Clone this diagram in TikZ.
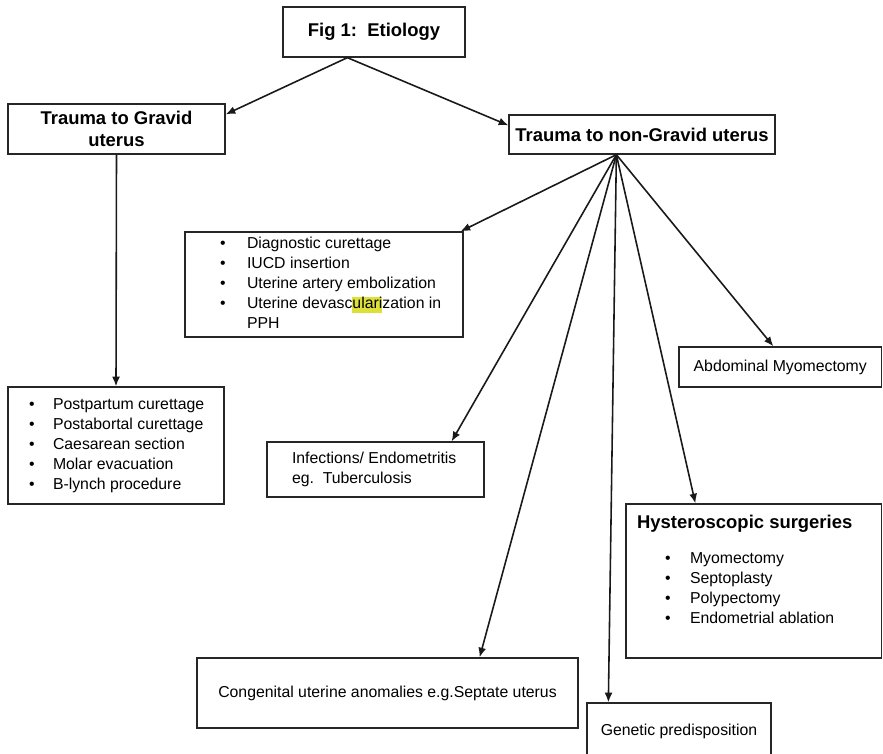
\documentclass[tikz,border=0pt]{standalone}
\usepackage{fontspec}
\setmainfont{Liberation Sans}
\usetikzlibrary{arrows.meta,calc}
\definecolor{hilite}{RGB}{222,224,58}
\setlength{\fboxsep}{0pt}
\newcommand{\headfont}{\fontsize{10.5}{12.5}\selectfont\bfseries}
\newcommand{\itm}[1][0.5cm]{\makebox[#1][l]{\textbullet}}
\newcommand{\boxlist}[3]{\makebox[#1][l]{\begin{tabular}{@{\hspace{#2}}l@{}}#3\end{tabular}}}
\begin{document}
\begin{tikzpicture}[x=0.02cm,y=-0.02cm,
	>={Latex[length=5.5pt,width=4.5pt]},
	box/.style={draw=black!85,line width=0.75pt,inner sep=0pt,font=\fontsize{9}{11.4}\selectfont},
	head/.style={box,font=\headfont,align=center},
	link/.style={->,line width=0.9pt,black!90}]
	\useasboundingbox (0,0) rectangle (883,754);
	\clip (0,0) rectangle (883,754);
	\node[head,minimum width=3.64cm,minimum height=1cm] (fig) at (374,32) {Fig 1:\ \ Etiology};
	\node[head,minimum width=4.34cm,minimum height=1cm] (gravid) at (116.5,129) {Trauma to Gravid\\uterus};
	\node[head,minimum width=5.32cm,minimum height=0.78cm] (nongravid) at (642,134.5) {Trauma to non-Gravid uterus};
	\node[box,minimum width=4.32cm,minimum height=2.34cm] (gravlist) at (116,445.5) {\boxlist{4.32cm}{0.42cm}{\itm[0.48cm]Postpartum curettage\\\itm[0.48cm]Postabortal curettage\\\itm[0.48cm]Caesarean section\\\itm[0.48cm]Molar evacuation\\\itm[0.48cm]B-lynch procedure}};
	\node[box,minimum width=5.56cm,minimum height=2.1cm] (diag) at (324,284.5) {\boxlist{5.56cm}{0.7cm}{\itm[0.54cm]Diagnostic curettage\\\itm[0.54cm]IUCD insertion\\\itm[0.54cm]Uterine artery embolization\\\itm[0.54cm]Uterine devasc\colorbox{hilite}{\rule[-2.6pt]{0pt}{9.4pt}ulari}zation in\\\hspace*{0.54cm}PPH}};
	\node[box,minimum width=4.05cm,minimum height=0.8cm] (abdomyo) at (780.25,367) {Abdominal Myomectomy};
	\node[box,minimum width=4.34cm,minimum height=1.1cm] (infect) at (375.5,469.5) {\boxlist{4.34cm}{0.5cm}{Infections/ Endometritis\\eg.\ \ Tuberculosis}};
	\node[box,minimum width=5.11cm,minimum height=3.08cm] (hystero) at (753.75,581) {\parbox[c][3.08cm][t]{5.11cm}{\vspace*{0.22cm}\hspace*{0.22cm}{\headfont Hysteroscopic surgeries}\par\vspace{0.3cm}\begin{tabular}[t]{@{\hspace{0.78cm}}l@{}}\itm Myomectomy\\\itm Septoplasty\\\itm Polypectomy\\\itm Endometrial ablation\end{tabular}}};
	\node[box,minimum width=7.62cm,minimum height=1.4cm] (congen) at (387.5,693) {Congenital uterine anomalies e.g.Septate uterus};
	\node[box,minimum width=3.68cm,minimum height=1.12cm] (genetic) at (679,731) {\raisebox{0.06cm}{Genetic predisposition}};
	\coordinate (figout) at ($(fig.south west)+(65,0)$);
	\coordinate (ngout) at ($(nongravid.south west)+(108,0)$);
	\draw[link] (figout) -- ($(gravid.north east)+(0,11)$);
	\draw[link] (figout) -- ($(nongravid.north west)+(0,11)$);
	\draw[link] (gravid.south) -- (gravlist.north);
	\draw[link] (ngout) -- ($(diag.north east)+(-3,0)$);
	\draw[link] (ngout) -- ($(infect.north east)+(-33,0)$);
	\draw[link] (ngout) -- ($(congen.north east)+(-99,0)$);
	\draw[link] (ngout) -- ($(genetic.north west)+(22,0)$);
	\draw[link] (ngout) -- ($(hystero.north west)+(70,0)$);
	\draw[link] (ngout) -- ($(abdomyo.north west)+(95,0)$);
\end{tikzpicture}
\end{document}
